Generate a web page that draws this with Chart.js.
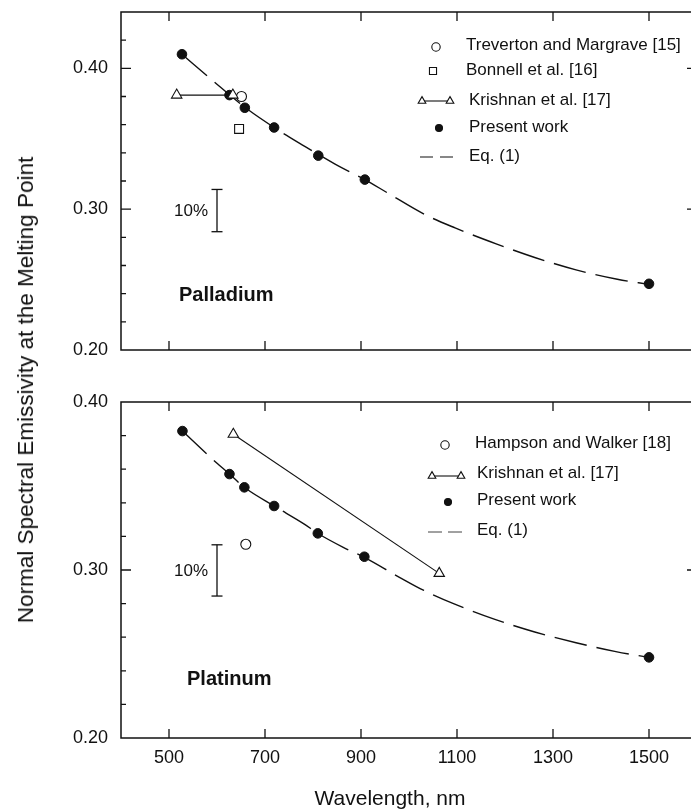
<!DOCTYPE html>
<html>
<head>
<meta charset="utf-8">
<script src="https://cdn.jsdelivr.net/npm/chart.js@4.4.0/dist/chart.umd.min.js"></script>
<style>
html, body { margin: 0; padding: 0; background: #fff; overflow: hidden; }
#wrap { position: relative; width: 691px; height: 811px; overflow: hidden; font-family: 'Liberation Sans', Arial, Helvetica, sans-serif; }
#wrap canvas { position: absolute; left: 0; }
#c1 { top: 0; }
#c2 { top: 390px; }
.ttl { position: absolute; white-space: nowrap; color: #111; }
#ytitle { left: 26px; top: 390px; font-size: 22.5px; transform: translate(-50%, -50%) rotate(-90deg); }
#xtitle { left: 390px; top: 798px; font-size: 21px; transform: translate(-50%, -50%); }
</style>
</head>
<body>
<div id="wrap">
  <canvas id="c1" width="700" height="362"></canvas>
  <canvas id="c2" width="700" height="421"></canvas>
  <div class="ttl" id="ytitle">Normal Spectral Emissivity at the Melting Point</div>
  <div class="ttl" id="xtitle">Wavelength, nm</div>
</div>
<script>
// 坐标轴刻度
const xTicks = [500, 700, 900, 1100, 1300, 1500];
const yTicks = [0.20, 0.30, 0.40];
const yMinorStep = 0.02;

// Palladium
const pdPresentX = [527, 626, 658, 719, 811, 908, 1500];
const pdPresentY = [0.410, 0.381, 0.372, 0.358, 0.338, 0.321, 0.247];
const pdTrevertonX = [651];
const pdTrevertonY = [0.380];
const pdBonnellX = [646];
const pdBonnellY = [0.357];
const pdKrishnanX = [516, 633];
const pdKrishnanY = [0.381, 0.381];
const pdEqX = [527, 592, 658, 719, 781, 846, 908, 957, 1033, 1096, 1183, 1262, 1348, 1434, 1500];
const pdEqY = [0.410, 0.391, 0.3724, 0.358, 0.345, 0.332, 0.321, 0.3112, 0.2962, 0.2867, 0.2752, 0.2657, 0.2569, 0.2502, 0.2466];
const pdErrY = [0.314, 0.284];

// Platinum
const ptPresentX = [528, 626, 657, 719, 810, 907, 1500];
const ptPresentY = [0.3827, 0.3571, 0.3492, 0.3381, 0.3218, 0.3079, 0.248];
const ptHampsonX = [660];
const ptHampsonY = [0.3153];
const ptKrishnanX = [634, 1063];
const ptKrishnanY = [0.3808, 0.298];
const ptEqX = [528, 591, 626, 657, 719, 781, 810, 863, 907, 981, 1031, 1094, 1179, 1262, 1348, 1431, 1500];
const ptEqY = [0.3827, 0.3659, 0.3571, 0.3492, 0.3381, 0.3275, 0.3218, 0.3135, 0.3075, 0.2955, 0.2878, 0.2798, 0.2706, 0.2631, 0.2567, 0.2514, 0.248];
const ptErrY = [0.315, 0.2845];

const errBarX = [600, 600];

const FONT = "'Liberation Sans', Arial, Helvetica, sans-serif";
const INK = '#111';

function pts(xs, ys) {
    return xs.map((x, i) => ({ x: x, y: ys[i] }));
}

// 固定坐标轴尺寸，不让标签额外撑开绘图区
function fixScale(s, size) {
    if (s.isHorizontal()) s.height = size; else s.width = size;
    s.paddingTop = 0; s.paddingBottom = 0;
    s.paddingLeft = 0; s.paddingRight = 0;
}

// 边框、向内刻度、图例和文字
const decorPlugin = {
    id: 'decor',
    afterDatasetsDraw(chart, args, opts) {
        const ctx = chart.ctx;
        const { left, right, top, bottom } = chart.chartArea;
        const xs = chart.scales.x, ys = chart.scales.y;
        ctx.save();
        ctx.strokeStyle = INK;
        ctx.lineWidth = 1.5;
        ctx.strokeRect(left, top, right - left, bottom - top);

        ctx.beginPath();
        ctx.lineWidth = 1.3;
        xTicks.forEach(v => {
            const px = xs.getPixelForValue(v);
            ctx.moveTo(px, top); ctx.lineTo(px, top + 9);
            ctx.moveTo(px, bottom); ctx.lineTo(px, bottom - 9);
        });
        const n = Math.round((ys.max - ys.min) / yMinorStep);
        for (let i = 1; i < n; i++) {
            const v = ys.min + i * yMinorStep;
            const py = ys.getPixelForValue(v);
            const major = yTicks.some(t => Math.abs(t - v) < 1e-6);
            ctx.moveTo(left, py); ctx.lineTo(left + (major ? 10 : 5), py);
            if (major) { ctx.moveTo(right, py); ctx.lineTo(right - 10, py); }
        }
        ctx.stroke();

        // 10% 标尺文字
        ctx.fillStyle = INK;
        ctx.font = '17px ' + FONT;
        ctx.textAlign = 'right';
        ctx.textBaseline = 'middle';
        const bx = xs.getPixelForValue(errBarX[0]);
        const by = (ys.getPixelForValue(opts.err[0]) + ys.getPixelForValue(opts.err[1])) / 2;
        ctx.fillText('10%', bx - 9, by + 1);

        // 金属名称
        ctx.font = 'bold 20px ' + FONT;
        ctx.textAlign = 'left';
        ctx.fillText(opts.name.text, opts.name.x, opts.name.y);

        // 图例
        ctx.font = '17px ' + FONT;
        opts.legend.forEach(item => {
            ctx.strokeStyle = INK;
            ctx.lineWidth = item.lw || 1.1;
            ctx.setLineDash([]);
            if (item.kind === 'dash') {
                ctx.setLineDash(item.dash);
                ctx.beginPath();
                ctx.moveTo(item.x1, item.y); ctx.lineTo(item.x2, item.y);
                ctx.stroke();
                ctx.setLineDash([]);
            } else if (item.kind === 'triline') {
                ctx.beginPath();
                ctx.moveTo(item.x1, item.y); ctx.lineTo(item.x2, item.y);
                ctx.stroke();
                [item.x1, item.x2].forEach(px => {
                    ctx.fillStyle = '#fff';
                    Chart.helpers.drawPoint(ctx, { pointStyle: 'triangle', radius: item.r, borderWidth: 1.1 }, px, item.y);
                });
            } else {
                ctx.fillStyle = item.fill;
                Chart.helpers.drawPoint(ctx, { pointStyle: item.style, radius: item.r, borderWidth: 1.1 }, item.x, item.y);
            }
            ctx.fillStyle = INK;
            ctx.fillText(item.text, item.tx, item.ty);
        });
        ctx.restore();
    }
};

function makePanel(canvasId, p) {
    const datasets = [
        { data: pts(p.presentX, p.presentY), pointStyle: 'circle', pointRadius: 4.8,
          backgroundColor: INK, borderColor: INK, borderWidth: 1, order: 1 },
        { data: pts(p.krishnanX, p.krishnanY), showLine: true, pointStyle: 'triangle', pointRadius: 6,
          backgroundColor: '#fff', borderColor: INK, borderWidth: 1.1, order: 0 },
        { data: pts(p.eqX, p.eqY), showLine: true, pointRadius: 0, borderColor: INK, borderWidth: 1.4,
          borderDash: [33, 10], cubicInterpolationMode: 'monotone', order: 5 },
        { data: pts(errBarX, p.errY), showLine: true, pointStyle: 'line', pointRadius: 5.5,
          borderColor: INK, borderWidth: 1.3, order: 4 }
    ];
    p.extra.forEach(e => datasets.push({
        data: pts(e.x, e.y), pointStyle: e.style, pointRadius: e.r,
        backgroundColor: '#fff', borderColor: INK, borderWidth: 1.1, order: 0
    }));

    return new Chart(document.getElementById(canvasId), {
        type: 'scatter',
        data: { datasets: datasets },
        options: {
            responsive: false,
            animation: false,
            devicePixelRatio: 1,
            layout: { padding: p.padding, autoPadding: false },
            plugins: {
                legend: { display: false },
                tooltip: { enabled: false },
                decor: { legend: p.legend, name: p.name, err: p.errY }
            },
            scales: {
                x: {
                    type: 'linear', min: 400, max: 1600,
                    display: p.showX,
                    grid: { display: false, drawTicks: false },
                    border: { display: false },
                    afterBuildTicks: s => { s.ticks = xTicks.map(v => ({ value: v })); },
                    afterFit: s => fixScale(s, p.xHeight),
                    ticks: { color: INK, padding: 9, font: { family: FONT, size: 18 }, callback: v => String(v) }
                },
                y: {
                    type: 'linear', min: 0.20, max: p.yMax,
                    grid: { display: false, drawTicks: false },
                    border: { display: false },
                    afterBuildTicks: s => { s.ticks = yTicks.map(v => ({ value: v })); },
                    afterFit: s => fixScale(s, 121),
                    ticks: { color: INK, padding: 13, font: { family: FONT, size: 18 }, callback: v => v.toFixed(2) }
                }
            }
        },
        plugins: [decorPlugin]
    });
}

window.palladiumChart = makePanel('c1', {
    presentX: pdPresentX, presentY: pdPresentY,
    krishnanX: pdKrishnanX, krishnanY: pdKrishnanY,
    eqX: pdEqX, eqY: pdEqY, errY: pdErrY,
    extra: [
        { x: pdTrevertonX, y: pdTrevertonY, style: 'circle', r: 5 },
        { x: pdBonnellX, y: pdBonnellY, style: 'rect', r: 6.3 }
    ],
    yMax: 0.44, showX: false, xHeight: 0,
    padding: { top: 12, left: 0, right: 3, bottom: 12 },
    name: { text: 'Palladium', x: 179, y: 295 },
    legend: [
        { style: 'circle', fill: '#fff', r: 4.2, x: 436, y: 47, text: 'Treverton and Margrave [15]', tx: 466, ty: 45 },
        { style: 'rect', fill: '#fff', r: 5, x: 433, y: 71, text: 'Bonnell et al. [16]', tx: 466, ty: 70 },
        { kind: 'triline', r: 4.4, x1: 422, x2: 450, y: 101, text: 'Krishnan et al. [17]', tx: 469, ty: 100 },
        { style: 'circle', fill: INK, r: 3.5, x: 439, y: 128, text: 'Present work', tx: 469, ty: 127 },
        { kind: 'dash', dash: [13, 7], x1: 420, x2: 453, y: 157, text: 'Eq. (1)', tx: 469, ty: 156 }
    ]
});

window.platinumChart = makePanel('c2', {
    presentX: ptPresentX, presentY: ptPresentY,
    krishnanX: ptKrishnanX, krishnanY: ptKrishnanY,
    eqX: ptEqX, eqY: ptEqY, errY: ptErrY,
    extra: [
        { x: ptHampsonX, y: ptHampsonY, style: 'circle', r: 5 }
    ],
    yMax: 0.40, showX: true, xHeight: 73,
    padding: { top: 12, left: 0, right: 3, bottom: 0 },
    name: { text: 'Platinum', x: 187, y: 289 },
    legend: [
        { style: 'circle', fill: '#fff', r: 4.2, x: 445, y: 55, text: 'Hampson and Walker [18]', tx: 475, ty: 53 },
        { kind: 'triline', r: 4.4, x1: 432, x2: 461, y: 86, text: 'Krishnan et al. [17]', tx: 477, ty: 83 },
        { style: 'circle', fill: INK, r: 3.5, x: 448, y: 112, text: 'Present work', tx: 477, ty: 110 },
        { kind: 'dash', dash: [14, 6], lw: 0.8, x1: 428, x2: 462, y: 142, text: 'Eq. (1)', tx: 477, ty: 140 }
    ]
});
</script>
</body>
</html>
